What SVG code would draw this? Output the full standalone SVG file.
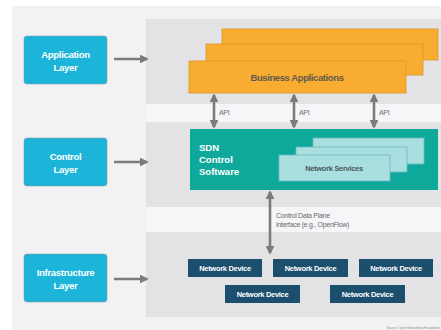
<svg xmlns="http://www.w3.org/2000/svg" width="441" height="330" viewBox="0 0 441 330">
<defs>
<marker id="ah" viewBox="0 0 10 10" refX="8" refY="5" markerWidth="3.6" markerHeight="3.4" orient="auto-start-reverse">
<path d="M0,0 L10,5 L0,10 Z" fill="#7b7b7d"/>
</marker>
<style>
.layer{fill:#1cb5d9;stroke:#8a9ca4;stroke-width:0.6}
.layer-t{font-family:"Liberation Sans",Arial,sans-serif;font-size:9.5px;font-weight:bold;fill:#ffffff;text-anchor:middle;letter-spacing:-0.3px}
.panel{fill:#e3e3e6}
.biz{fill:#f8ad30;stroke:#d9972a;stroke-width:0.8}
.svc{fill:#a9dfe1;stroke:#6fb8bb;stroke-width:0.8}
.dev{fill:#1c4e6d}
.dev-t{font-family:"Liberation Sans",Arial,sans-serif;font-size:7.5px;font-weight:bold;fill:#ffffff;text-anchor:middle;letter-spacing:-0.3px}
.conn{stroke:#7b7b7d;stroke-width:2.6;fill:none}
.lbl{font-family:"Liberation Sans",Arial,sans-serif;font-size:7px;fill:#6b6b6d;letter-spacing:-0.3px}
</style>
</defs>
<rect x="0" y="0" width="441" height="330" fill="#ffffff"/>
<rect x="12" y="6" width="429" height="324" fill="#f2f2f4"/>
<rect x="146" y="104" width="295" height="18" fill="#f6f6f8"/>
<rect x="146" y="207" width="295" height="25" fill="#f6f6f8"/>

<g id="app-panel">
<rect class="panel" x="146" y="19" width="295" height="85"/>
</g>
<g id="control-panel">
<rect class="panel" x="146" y="122" width="295" height="85"/>
</g>
<g id="infra-panel">
<rect class="panel" x="146" y="232" width="295" height="85"/>
</g>

<g id="application-layer">
<rect class="layer" x="24" y="36" width="83" height="48" rx="3"/>
<text class="layer-t" x="65.5" y="58">Application</text>
<text class="layer-t" x="65.5" y="71">Layer</text>
</g>
<g id="control-layer">
<rect class="layer" x="24" y="138" width="83" height="48" rx="3"/>
<text class="layer-t" x="65.5" y="160">Control</text>
<text class="layer-t" x="65.5" y="173">Layer</text>
</g>
<g id="infrastructure-layer">
<rect class="layer" x="24" y="254" width="83" height="48" rx="3"/>
<text class="layer-t" x="65.5" y="276">Infrastructure</text>
<text class="layer-t" x="65.5" y="289">Layer</text>
</g>

<g id="business-applications">
<rect class="biz" x="222" y="29" width="216" height="31"/>
<rect class="biz" x="206" y="44" width="217" height="31"/>
<rect class="biz" x="189" y="61" width="217" height="32"/>
<text x="297" y="81" font-family="'Liberation Sans',Arial,sans-serif" font-size="9.5" font-weight="bold" fill="#5e5a52" text-anchor="middle" letter-spacing="-0.4">Business Applications</text>
</g>

<g id="sdn-control-software">
<rect x="190" y="129" width="248" height="61" fill="#0fa99c"/>
<text x="199" y="151" font-family="'Liberation Sans',Arial,sans-serif" font-size="9.5" font-weight="bold" fill="#ffffff">SDN</text>
<text x="199" y="163" font-family="'Liberation Sans',Arial,sans-serif" font-size="9.5" font-weight="bold" fill="#ffffff">Control</text>
<text x="199" y="175" font-family="'Liberation Sans',Arial,sans-serif" font-size="9.5" font-weight="bold" fill="#ffffff">Software</text>
</g>

<g id="network-services">
<rect class="svc" x="313" y="138" width="111" height="26"/>
<rect class="svc" x="296" y="147" width="111" height="25"/>
<rect class="svc" x="279" y="155" width="111" height="26"/>
<text x="334" y="171" font-family="'Liberation Sans',Arial,sans-serif" font-size="7.5" font-weight="bold" fill="#4a5a5c" text-anchor="middle" letter-spacing="-0.3">Network Services</text>
</g>

<g id="network-device-1"><rect class="dev" x="188" y="259" width="74" height="18"/><text class="dev-t" x="225" y="271">Network Device</text></g>
<g id="network-device-2"><rect class="dev" x="273" y="259" width="75" height="18"/><text class="dev-t" x="310.5" y="271">Network Device</text></g>
<g id="network-device-3"><rect class="dev" x="359" y="259" width="74" height="18"/><text class="dev-t" x="396" y="271">Network Device</text></g>
<g id="network-device-4"><rect class="dev" x="225" y="285" width="75" height="18"/><text class="dev-t" x="262.5" y="297">Network Device</text></g>
<g id="network-device-5"><rect class="dev" x="330" y="285" width="75" height="18"/><text class="dev-t" x="367.5" y="297">Network Device</text></g>

<g id="connectors">
<line class="conn" x1="114" y1="59" x2="147" y2="59" marker-end="url(#ah)"/>
<line class="conn" x1="114" y1="162" x2="147" y2="162" marker-end="url(#ah)"/>
<line class="conn" x1="114" y1="279" x2="147" y2="279" marker-end="url(#ah)"/>
<line class="conn" x1="214" y1="95" x2="214" y2="127" marker-start="url(#ah)" marker-end="url(#ah)"/>
<line class="conn" x1="294" y1="95" x2="294" y2="127" marker-start="url(#ah)" marker-end="url(#ah)"/>
<line class="conn" x1="374" y1="95" x2="374" y2="127" marker-start="url(#ah)" marker-end="url(#ah)"/>
<line class="conn" x1="270" y1="192" x2="270" y2="253" marker-start="url(#ah)" marker-end="url(#ah)"/>
<text class="lbl" x="219" y="115">API</text>
<text class="lbl" x="299" y="115">API</text>
<text class="lbl" x="379" y="115">API</text>
<text class="lbl" x="276" y="218">Control Data Plane</text>
<text class="lbl" x="276" y="227">interface (e.g., OpenFlow)</text>
</g>

<text x="440" y="329" font-family="'Liberation Sans',Arial,sans-serif" font-size="3.2" fill="#8a8a8c" text-anchor="end">Source: Open Networking Foundation</text>
</svg>
